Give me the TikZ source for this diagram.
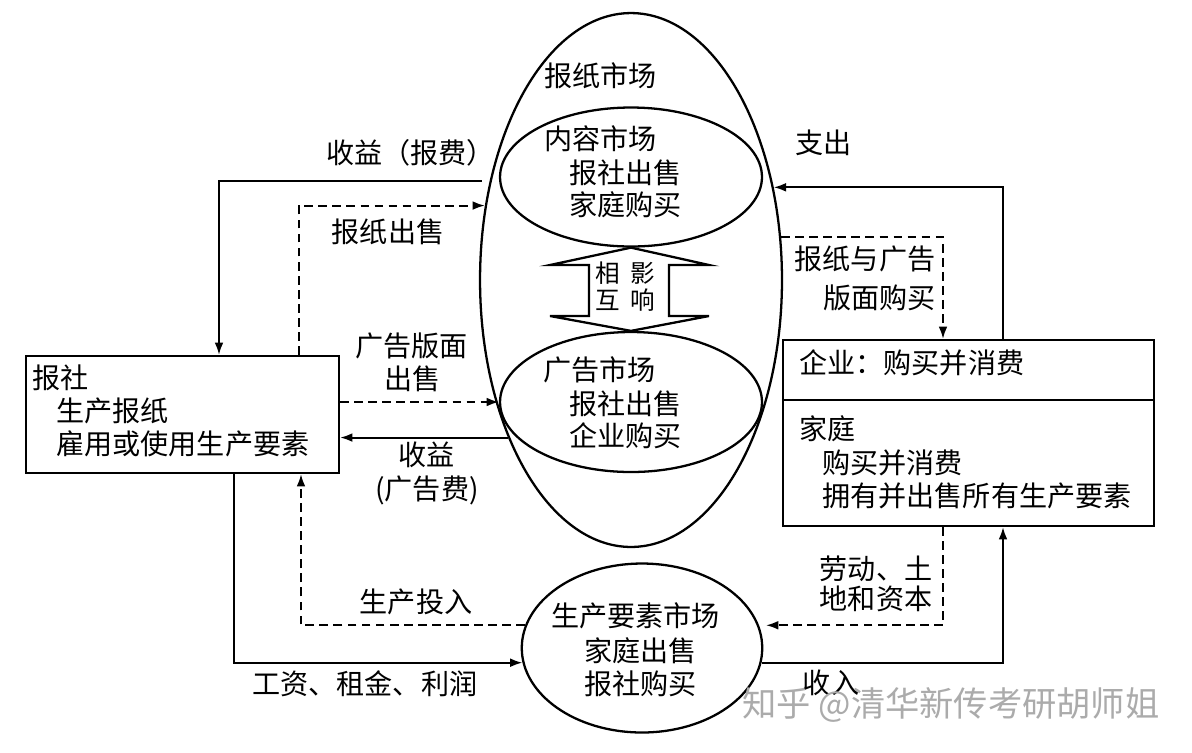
\documentclass[tikz,border=0pt]{standalone}
\usepackage{fontspec}
\setmainfont{Noto Sans CJK SC}
\usetikzlibrary{arrows.meta, shapes.geometric, positioning, calc}
\newcommand{\zh}{\fontsize{16pt}{19pt}\selectfont}
\newcommand{\zhs}{\fontsize{14pt}{16pt}\selectfont}
\newcommand{\wm}{\fontsize{19.5pt}{22pt}\selectfont}
\tikzset{
  mkt/.style={draw, ellipse, line width=1.3pt, inner sep=0},
  agent/.style={draw, rectangle, line width=1.3pt, inner sep=0},
  lbl/.style={inner sep=0, font=\zh, text height=0.88em, text depth=0.12em},
  txt/.style={lbl, anchor=west},
  flow/.style={line width=1.1pt, -{Latex[length=7pt,width=5pt]}},
  goods/.style={flow, dash pattern=on 5pt off 3pt},
}

\begin{document}
\begin{tikzpicture}[x=0.02cm, y=-0.02cm]
  \useasboundingbox (0,0) rectangle (1192,752);

  % markets
  \node[mkt, minimum width=6.04cm, minimum height=10.68cm] (paper) at (631,280) {};
  \node[mkt, minimum width=5.24cm, minimum height=2.78cm] (content) at (631,177) {};
  \node[mkt, minimum width=5.24cm, minimum height=2.80cm] (admkt) at (631,402) {};
  \node[mkt, minimum width=4.81cm, minimum height=3.38cm] (factor) at (642,648) {};

  % the two sides
  \node[agent, minimum width=6.26cm, minimum height=2.34cm] (press) at (182.5,414.5) {};
  \node[agent, minimum width=7.42cm, minimum height=3.72cm] (homes) at (968.5,433) {};
  \coordinate (split) at (0,400);
  \draw[line width=1.3pt] (homes.west |- split) -- (homes.east |- split);

  % texts inside
  \node[txt] (tpaper) at (544,80) {报纸市场};
  \node[txt] (tcont1) at (544,143) {内容市场};
  \node[txt] (tcont2) at (569,177) {报社出售};
  \node[txt] (tcont3) at (569,209) {家庭购买};
  \node[txt] (tad1) at (543,374) {广告市场};
  \node[txt] (tad2) at (569,408) {报社出售};
  \node[txt] (tad3) at (569,440) {企业购买};
  \node[txt] (tfac1) at (551,620) {生产要素市场};
  \node[txt] (tfac2) at (584,655) {家庭出售};
  \node[txt] (tfac3) at (584,688) {报社购买};
  \node[txt] (tpress1) at (32,382) {报社};
  \node[txt] (tpress2) at (56,415) {生产报纸};
  \node[txt] (tpress3) at (56,448) {雇用或使用生产要素};
  \node[txt] (tfirm) at (799,367) {企业：购买并消费};
  \node[txt] (thome1) at (799,433) {家庭};
  \node[txt] (thome2) at (822,467) {购买并消费};
  \node[txt] (thome3) at (822,500) {拥有并出售所有生产要素};

  % mutual influence
  \draw[line width=1.3pt, line join=miter] (content.south) -- (709,265) -- (669,265)
    -- (669,316) -- (709,316) -- (admkt.north) -- (550,316) -- (589,316)
    -- (589,265) -- (550,265) -- cycle;
  \node[lbl, font=\zhs] (mut1) at (625,276) {相\hspace{0.42em}影};
  \node[lbl, font=\zhs] (mut2) at (625,303) {互\hspace{0.42em}响};

  % money and goods
  \draw[flow, shorten <=0.16cm] (paper.145) -| ($(press.north)+(36.5,0)$);
  \draw[goods] ($(press.north)+(116.5,0)$) |- (paper.153);
  \draw[goods] (press.east |- admkt.west) -- (admkt.west);
  \draw[flow] (paper.232) -- (press.east |- paper.232);
  \draw[goods] (factor.169) -| ($(press.south)+(118.5,0)$);
  \draw[flow] ($(press.south)+(51.5,0)$) |- (factor.187);
  \draw[flow] (factor.353) -| ($(homes.south)+(34.5,0)$);
  \draw[goods, shorten >=0.14cm] ($(homes.south)+(-25.5,0)$) |- (factor.11);
  \draw[flow] ($(homes.north)+(34.5,0)$) |- (paper.33);
  \draw[goods] (paper.16) -| ($(homes.north)+(-25.5,0)$);

  % labels
  \node[txt] (rev1) at (326,157) {收益（报费）};
  \node[lbl] (sell1) at (388,236) {报纸出售};
  \node[lbl] (sell2a) at (411.5,350) {广告版面};
  \node[lbl] (sell2b) at (412.5,383) {出售};
  \node[lbl] (rev2a) at (426.5,459) {收益};
  \node[lbl] (rev2b) at (427,493) {(广告费)};
  \node[lbl] (input) at (416,606) {生产投入};
  \node[txt] (wage) at (252,688) {工资、租金、利润};
  \node[lbl] (spend) at (823.5,147) {支出};
  \node[lbl] (buy1) at (865,263) {报纸与广告};
  \node[lbl, anchor=east] (buy2) at (936,302) {版面购买};
  \node[lbl] (labor1) at (876,573) {劳动、土};
  \node[lbl] (labor2) at (876,603) {地和资本};
  \node[lbl] (income) at (831,687) {收入};

  \node[font=\wm, text=black!33, inner sep=0] (mark) at (951,705) {知乎 @清华新传考研胡师姐};
\end{tikzpicture}
\end{document}
